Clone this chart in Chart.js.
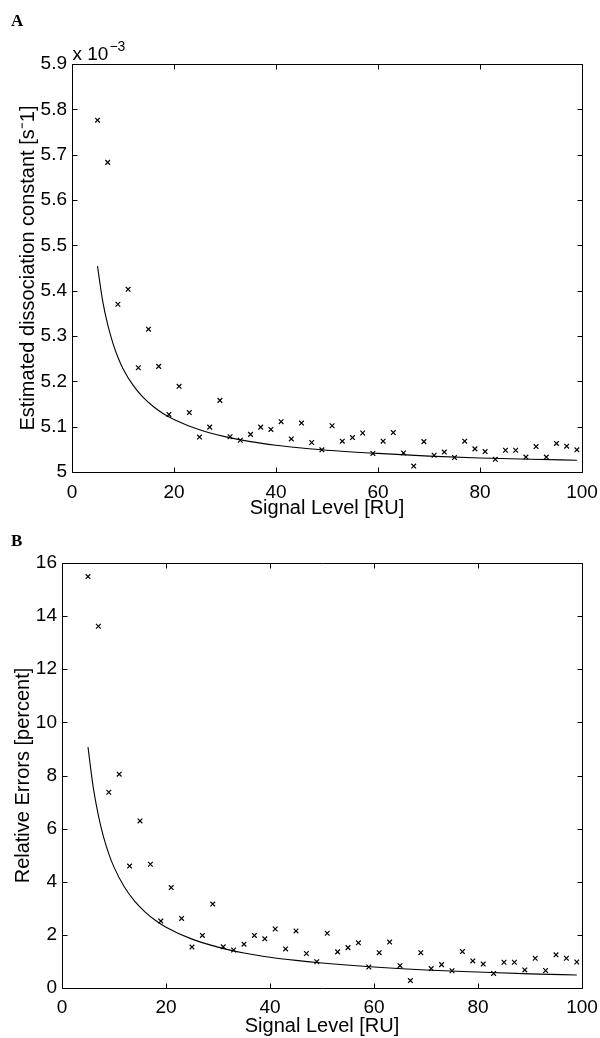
<!DOCTYPE html>
<html lang="en">
<head>
    <meta charset="UTF-8">
    <title>Dissociation constant vs signal level</title>
    <script src="https://cdn.jsdelivr.net/npm/chart.js"></script>
    <style>
        body {
            margin: 0;
            background: #fff;
        }
        canvas {
            display: block;
        }
    </style>
</head>
<body>
    <canvas id="chartA" width="600" height="522"></canvas>
    <canvas id="chartB" width="600" height="516"></canvas>

    <script>
        // Signal levels of the simulated points (RU)
        const signalLevel = [5, 7, 9, 11, 13, 15, 17, 19, 21, 23, 25, 27, 29, 31, 33, 35, 37, 39, 41, 43,
            45, 47, 49, 51, 53, 55, 57, 59, 61, 63, 65, 67, 69, 71, 73, 75, 77, 79, 81, 83,
            85, 87, 89, 91, 93, 95, 97, 99];

        // Panel A: estimated dissociation constant (x 10^-3 s^-1)
        const estimatedKd = [5.776, 5.683, 5.370, 5.403, 5.230, 5.315, 5.233, 5.127, 5.189, 5.131,
            5.077, 5.099, 5.158, 5.078, 5.070, 5.083, 5.099, 5.094, 5.111, 5.073,
            5.108, 5.065, 5.049, 5.102, 5.068, 5.076, 5.086, 5.041, 5.068, 5.087,
            5.042, 5.013, 5.067, 5.037, 5.044, 5.032, 5.068, 5.051, 5.045, 5.028,
            5.048, 5.048, 5.033, 5.056, 5.033, 5.063, 5.057, 5.049];

        // Panel B: relative errors (percent)
        const relativeError = [15.49, 13.62, 7.37, 8.05, 4.59, 6.29, 4.66, 2.52, 3.78, 2.62,
            1.54, 1.98, 3.16, 1.55, 1.43, 1.65, 1.98, 1.85, 2.22, 1.47,
            2.15, 1.30, 0.99, 2.06, 1.36, 1.52, 1.70, 0.79, 1.33, 1.73,
            0.84, 0.28, 1.33, 0.73, 0.88, 0.65, 1.37, 1.02, 0.90, 0.55,
            0.97, 0.97, 0.68, 1.12, 0.66, 1.25, 1.12, 0.98];

        // Solid curves
        const curveX = [5, 6, 7, 8, 9, 10, 12, 14, 16, 18, 20, 25, 30, 35, 40, 45, 50, 60, 70, 80, 90, 99];
        const curveA = [5.454, 5.378, 5.325, 5.285, 5.253, 5.228, 5.191, 5.164, 5.144, 5.128, 5.116,
            5.093, 5.078, 5.067, 5.059, 5.053, 5.048, 5.041, 5.035, 5.031, 5.028, 5.026];
        const curveB = [9.07, 7.56, 6.49, 5.68, 5.05, 4.55, 3.80, 3.26, 2.86, 2.54, 2.29,
            1.84, 1.54, 1.32, 1.16, 1.04, 0.94, 0.79, 0.68, 0.60, 0.53, 0.49];

        const xTicks = [0, 20, 40, 60, 80, 100];

        const FONT = "'Liberation Sans', Arial, sans-serif";

        // MATLAB-style box with inward ticks, panel letter and exponent note
        const decoPlugin = {
            id: 'deco',
            afterDraw(chart, args, opts) {
                const ctx = chart.ctx;
                const { left, right, top, bottom } = chart.chartArea;
                const x = chart.scales.x, y = chart.scales.y;
                const tl = 5;
                ctx.save();
                ctx.strokeStyle = '#000';
                ctx.lineWidth = 1;
                ctx.beginPath();
                const L = Math.round(left) + 0.5, R = Math.round(right) + 0.5;
                const T = Math.round(top) + 0.5, B = Math.round(bottom) + 0.5;
                ctx.rect(L, T, R - L, B - T);
                x.ticks.forEach(t => {
                    const px = Math.round(x.getPixelForValue(t.value)) + 0.5;
                    ctx.moveTo(px, B); ctx.lineTo(px, B - tl);
                    ctx.moveTo(px, T); ctx.lineTo(px, T + tl);
                });
                y.ticks.forEach(t => {
                    const py = Math.round(y.getPixelForValue(t.value)) + 0.5;
                    ctx.moveTo(L, py); ctx.lineTo(L + tl, py);
                    ctx.moveTo(R, py); ctx.lineTo(R - tl, py);
                });
                ctx.stroke();

                ctx.fillStyle = '#000';
                ctx.textBaseline = 'alphabetic';
                ctx.textAlign = 'left';
                ctx.font = "bold 17px 'Liberation Serif', 'Times New Roman', serif";
                ctx.fillText(opts.letter, 11, opts.letterY);

                if (opts.exponent) {
                    ctx.font = '19px ' + FONT;
                    const base = 'x 10';
                    ctx.fillText(base, L, T - 5);
                    const w = ctx.measureText(base).width;
                    ctx.font = '14px ' + FONT;
                    ctx.fillText(opts.exponent, L + w + 1, T - 14);
                }
                ctx.restore();
            }
        };

        function makeChart(canvasId, cfg) {
            const ctx = document.getElementById(canvasId).getContext('2d');
            return new Chart(ctx, {
                type: 'scatter',
                data: {
                    datasets: [
                        {
                            label: 'simulated',
                            data: signalLevel.map((s, i) => ({ x: s, y: cfg.points[i] })),
                            pointStyle: 'crossRot',
                            pointRadius: 3.3,
                            pointHoverRadius: 3.3,
                            borderColor: '#000',
                            backgroundColor: '#000',
                            borderWidth: 1.2,
                            showLine: false
                        },
                        {
                            label: 'theory',
                            data: curveX.map((s, i) => ({ x: s, y: cfg.curve[i] })),
                            showLine: true,
                            pointRadius: 0,
                            borderColor: '#000',
                            borderWidth: 1.1,
                            cubicInterpolationMode: 'monotone'
                        }
                    ]
                },
                options: {
                    responsive: false,
                    animation: false,
                    events: [],
                    layout: { padding: { top: cfg.padTop, right: 18, left: 0, bottom: 0 } },
                    plugins: {
                        legend: { display: false },
                        tooltip: { enabled: false },
                        deco: { letter: cfg.letter, letterY: cfg.letterY, exponent: cfg.exponent }
                    },
                    scales: {
                        x: {
                            type: 'linear',
                            min: 0,
                            max: 100,
                            afterBuildTicks: s => { s.ticks = xTicks.map(v => ({ value: v })); },
                            afterFit: s => {
                                s.height = cfg.xHeight;
                                s.paddingLeft = 0;
                                s.paddingRight = 0;
                            },
                            grid: { display: false, drawTicks: false },
                            border: { display: false },
                            ticks: {
                                color: '#000',
                                font: { family: FONT, size: 19 },
                                padding: cfg.xTickPad,
                                maxRotation: 0
                            },
                            title: {
                                display: true,
                                text: 'Signal Level [RU]',
                                color: '#000',
                                font: { family: FONT, size: 20 },
                                padding: { top: 0, bottom: cfg.xTitlePad }
                            }
                        },
                        y: {
                            min: cfg.yMin,
                            max: cfg.yMax,
                            afterBuildTicks: s => { s.ticks = cfg.yTicks.map(v => ({ value: v })); },
                            afterFit: s => {
                                s.width = cfg.yWidth;
                                s.paddingTop = 0;
                                s.paddingBottom = 0;
                            },
                            grid: { display: false, drawTicks: false },
                            border: { display: false },
                            ticks: {
                                color: '#000',
                                font: { family: FONT, size: 19 },
                                padding: 5,
                                callback: v => String(Number(v.toFixed(1)))
                            },
                            title: {
                                display: true,
                                text: cfg.yTitle,
                                color: '#000',
                                font: { family: FONT, size: 20 },
                                padding: { top: cfg.yTitlePad, bottom: 0 }
                            }
                        }
                    }
                },
                plugins: [decoPlugin]
            });
        }

        makeChart('chartA', {
            points: estimatedKd,
            curve: curveA,
            yMin: 5, yMax: 5.9,
            yTicks: [5, 5.1, 5.2, 5.3, 5.4, 5.5, 5.6, 5.7, 5.8, 5.9],
            yTitle: 'Estimated dissociation constant [s\u207B1]',
            padTop: 64, xHeight: 50, yWidth: 72,
            xTickPad: 9, xTitlePad: 2, yTitlePad: 16,
            letter: 'A', letterY: 26, exponent: '\u22123'
        });

        makeChart('chartB', {
            points: relativeError,
            curve: curveB,
            yMin: 0, yMax: 16,
            yTicks: [0, 2, 4, 6, 8, 10, 12, 14, 16],
            yTitle: 'Relative Errors [percent]',
            padTop: 41, xHeight: 50, yWidth: 62,
            xTickPad: 8, xTitlePad: 0, yTitlePad: 11,
            letter: 'B', letterY: 24, exponent: null
        });
    </script>
</body>
</html>
